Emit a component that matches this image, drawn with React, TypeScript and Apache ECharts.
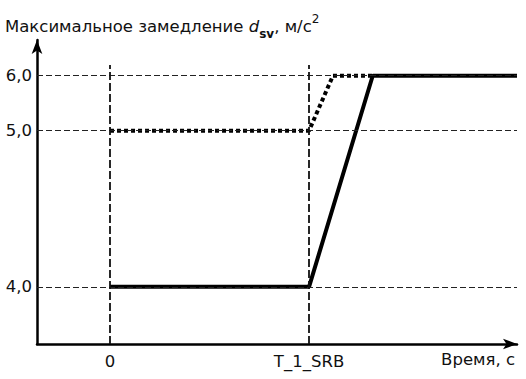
import React, { useEffect, useRef } from 'react';
import * as echarts from 'echarts';

// Tick values and labels
const yValues = [4, 5, 6];
const yLabels = ['4,0', '5,0', '6,0'];
const xMarks = [0, 10];
const xLabels = ['0', 'T_1_SRB'];

// Series (time in arbitrary units, T_1_SRB = 10)
const solidTime = [0, 10, 13.2, 20.45];
const solidDecel = [4, 4, 6, 6];
const dottedTime = [0, 10, 11.2, 13.2];
const dottedDecel = [5, 5, 6, 6];

// The drawing's vertical axis is not linear: visual positions of 4, 5, 6
const yPos = [0, 2.84, 3.84];

function mapY(v: number): number {
  for (let i = 0; i < yValues.length - 1; i++) {
    if (v <= yValues[i + 1] || i === yValues.length - 2) {
      const t = (v - yValues[i]) / (yValues[i + 1] - yValues[i]);
      return yPos[i] + t * (yPos[i + 1] - yPos[i]);
    }
  }
  return yPos[0];
}

const FONT = '"DejaVu Sans", sans-serif';
const FS = 16.5;

export default function App() {
  const ref = useRef<HTMLDivElement>(null);
  useEffect(() => {
    if (!ref.current) return;
    const chart = echarts.init(ref.current, null, { renderer: 'svg' });
    const axisLineStyle = { color: '#000', width: 2.5 };
    const option: any = {
      animation: false,
      backgroundColor: '#fff',
      title: {
        text: '{a|Максимальное замедление }{d|d}{s|sv}{a|, м/с}{p|2}',
        left: 0,
        top: 8,
        textStyle: {
          fontWeight: 'normal',
          rich: {
            a: { fontFamily: FONT, fontSize: FS, fontWeight: 'normal', color: '#111', lineHeight: 22, verticalAlign: 'bottom' },
            d: { fontFamily: FONT, fontSize: FS, fontStyle: 'italic', fontWeight: 'normal', color: '#111', lineHeight: 22, verticalAlign: 'bottom' },
            s: { fontFamily: FONT, fontSize: 12, fontWeight: 'bold', color: '#111', lineHeight: 12, verticalAlign: 'bottom', padding: [0, 0, -5, 0] },
            p: { fontFamily: FONT, fontSize: 12, fontWeight: 'normal', color: '#111', lineHeight: 12, verticalAlign: 'top', padding: [0, 0, 2, 0] },
          },
        },
      },
      grid: { left: 37, right: 9, top: 40, bottom: 35 },
      xAxis: {
        type: 'value',
        min: -3.67,
        max: 20.45,
        axisLine: { show: true, onZero: false, lineStyle: axisLineStyle, symbol: ['none', 'arrow'], symbolSize: [8, 14] },
        axisTick: { show: false },
        splitLine: { show: false },
        axisLabel: {
          customValues: xMarks,
          formatter: (v: number) => xLabels[xMarks.indexOf(v)] ?? '',
          margin: 9,
          fontFamily: FONT,
          fontSize: FS,
          color: '#111',
        },
      },
      yAxis: {
        type: 'value',
        min: -1.04,
        max: 4.49,
        axisLine: { show: true, onZero: false, lineStyle: axisLineStyle, symbol: ['none', 'arrow'], symbolSize: [8, 14] },
        axisTick: { show: false },
        splitLine: { show: false },
        axisLabel: {
          customValues: yPos,
          formatter: (v: number) => {
            let best = 0;
            yPos.forEach((p, i) => { if (Math.abs(p - v) < Math.abs(yPos[best] - v)) best = i; });
            return yLabels[best];
          },
          margin: 5,
          fontFamily: FONT,
          fontSize: FS,
          color: '#111',
        },
      },
      graphic: [
        {
          type: 'text',
          right: 11,
          top: 351,
          style: { text: 'Время, с', fontFamily: FONT, fontSize: FS, fill: '#111' },
        },
      ],
      series: [
        {
          type: 'line',
          data: [],
          z: 1,
          silent: true,
          markLine: {
            silent: true,
            symbol: 'none',
            label: { show: false },
            animation: false,
            data: [
              ...yValues.map((v) => ({
                yAxis: mapY(v),
                lineStyle: { type: [6, 3], width: 1, color: '#222' },
              })),
              ...xMarks.map((x) => [
                { coord: [x, -1.04], lineStyle: { type: [8, 3], width: 1.8, color: '#111' } },
                { coord: [x, 4.035] },
              ]),
            ],
          },
        },
        {
          type: 'line',
          z: 3,
          symbol: 'none',
          lineStyle: { color: '#000', width: 4 },
          data: solidTime.map((t, i) => [t, mapY(solidDecel[i])]),
        },
        {
          type: 'line',
          z: 2,
          symbol: 'none',
          lineStyle: { color: '#000', width: 4, type: [4, 3] },
          data: dottedTime.map((t, i) => [t, mapY(dottedDecel[i])]),
        },
      ],
    };
    chart.setOption(option);
    return () => chart.dispose();
  }, []);
  return <div ref={ref} style={{ position: 'fixed', left: 0, top: 0, width: 526, height: 379 }} />;
}
